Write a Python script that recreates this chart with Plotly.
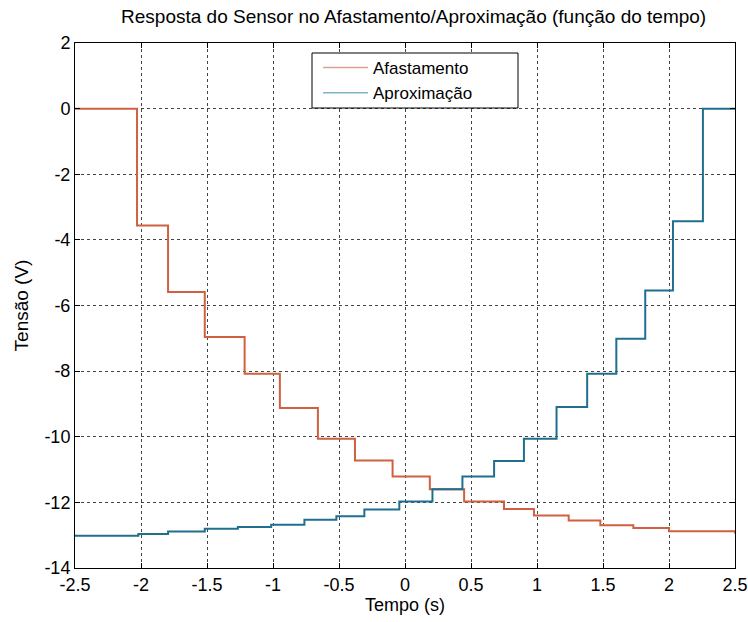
import plotly.graph_objects as go

# Step levels of the sensor output (start time of each plateau, voltage)
t_afast = [-2.5, -2.03, -1.795, -1.517, -1.215, -0.948, -0.66, -0.379, -0.094,
           0.188, 0.448, 0.75, 0.977, 1.24, 1.48, 1.73, 2.0, 2.5]
v_afast = [0.0, -3.56, -5.59, -6.96, -8.08, -9.12, -10.06, -10.72, -11.21,
           -11.6, -11.97, -12.2, -12.4, -12.55, -12.7, -12.78, -12.88, -12.95]

t_aprox = [-2.5, -2.02, -1.795, -1.517, -1.266, -1.014, -0.762, -0.52, -0.308,
           -0.043, 0.208, 0.435, 0.675, 0.901, 1.148, 1.38, 1.601, 1.82, 2.03,
           2.257, 2.5]
v_aprox = [-13.02, -12.96, -12.89, -12.80, -12.75, -12.68, -12.53, -12.42, -12.22,
           -11.97, -11.6, -11.21, -10.74, -10.06, -9.09, -8.08, -7.01, -5.54, -3.43,
           0.0, 0.0]

x_ticks = [-2.5, -2, -1.5, -1, -0.5, 0, 0.5, 1, 1.5, 2, 2.5]
x_tick_labels = ["-2.5", "-2", "-1.5", "-1", "-0.5", "0", "0.5", "1", "1.5", "2", "2.5"]
y_ticks = [2, 0, -2, -4, -6, -8, -10, -12, -14]
y_tick_labels = ["2", "0", "-2", "-4", "-6", "-8", "-10", "-12", "-14"]

RED = "#d0603f"
BLUE = "#1f6f8f"
FONT = "Liberation Sans, Arial, sans-serif"

fig = go.Figure()
fig.add_trace(go.Scatter(x=t_afast, y=v_afast, mode="lines", line_shape="hv",
                         line=dict(color=RED, width=2), showlegend=False))
fig.add_trace(go.Scatter(x=t_aprox, y=v_aprox, mode="lines", line_shape="hv",
                         line=dict(color=BLUE, width=2), showlegend=False))
# legend entries with lighter sample lines
fig.add_trace(go.Scatter(x=[None], y=[None], mode="lines", name="Afastamento",
                         line=dict(color="#e0a090", width=1.5)))
fig.add_trace(go.Scatter(x=[None], y=[None], mode="lines", name="Aproximação",
                         line=dict(color="#80b4cc", width=1.5)))

axis_common = dict(
    showline=True, linecolor="black", linewidth=1, mirror="ticks",
    ticks="inside", ticklen=5, tickcolor="black",
    showgrid=True, gridcolor="#444444", griddash="dot", gridwidth=1,
    zeroline=False, automargin=False,
    tickfont=dict(family=FONT, size=18, color="black"),
)

# plot-area geometry (px) used to place the legend frame in paper coordinates
L, R, T, B = 75, 13, 43, 54
PW, PH = 748 - L - R, 622 - T - B


def px_x(px):
    return (px - L) / PW


def px_y(py):
    return (622 - B - py) / PH


fig.update_layout(
    width=748, height=622,
    margin=dict(l=L, r=R, t=T, b=B),
    paper_bgcolor="white", plot_bgcolor="white",
    font=dict(family=FONT, color="black"),
    title=dict(text="Resposta do Sensor no Afastamento/Aproximação (função do tempo)",
               x=0.553, xanchor="center", y=1 - 16 / 622, yanchor="middle",
               font=dict(family=FONT, size=19, color="black")),
    xaxis=dict(range=[-2.5, 2.5], tickvals=x_ticks, ticktext=x_tick_labels,
               title=dict(text="Tempo (s)", font=dict(family=FONT, size=18), standoff=3),
               **axis_common),
    yaxis=dict(range=[-14, 2], tickvals=y_ticks, ticktext=y_tick_labels,
               title=dict(text="Tensão (V)", font=dict(family=FONT, size=19), standoff=10),
               **axis_common),
    legend=dict(x=px_x(318), y=px_y(50), xanchor="left", yanchor="top",
                bgcolor="rgba(0,0,0,0)", borderwidth=0,
                font=dict(family=FONT, size=17, color="black"),
                tracegroupgap=0, itemwidth=45),
    shapes=[dict(type="rect", xref="paper", yref="paper", layer="above",
                 x0=px_x(312), x1=px_x(518), y0=px_y(108), y1=px_y(53),
                 line=dict(color="black", width=1), fillcolor="white")],
)

fig.write_html("out.html")
